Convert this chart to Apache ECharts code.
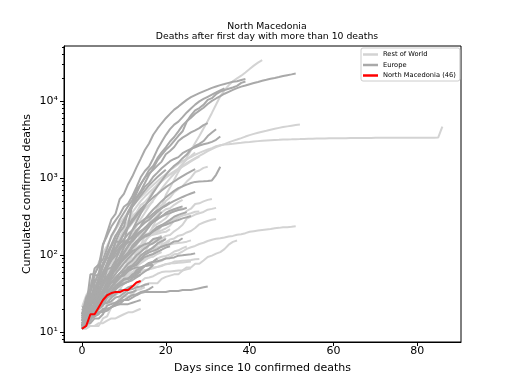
<!DOCTYPE html>
<html><head><meta charset="utf-8">
<script src="https://cdn.jsdelivr.net/npm/echarts@6/dist/echarts.min.js"></script>
<style>html,body{margin:0;padding:0;background:#fff}#c{width:512px;height:384px}</style>
</head><body><div id="c"></div>
<script>
// ---- Data (cumulative deaths, index = days since first day with >10 deaths) ----
const xTicks = [0, 20, 40, 60, 80];
const yTicks = [10, 100, 1000, 10000];
const yTickLabels = ['10\u00b9', '10\u00b2', '10\u00b3', '10\u2074'];
const legendNames = ['Rest of World', 'Europe', 'North Macedonia (46)'];

// Highlighted country
const northMacedonia = [11,12,17,17,21,26,30,32,33,33,35,35,39,44,46];

// Europe
const euA = [17,28,35,54,55,133,195,289,342,533,623,830,1043,1375,1772,2311,2808,3647,4365,5138,5982,6803,7716,8464,9387,10348,11198,11947,12641,13341,14045,14792,15447,16081,16606,17209,17756,18056,18708,19315];
const euB = [12,17,21,29,34,52,79,107,148,197,233,366,463,631,827,1016,1266,1441,1809,2158,2503,2978,3405,4032,4825,5476,6077,6820,7503,8165,9134,10023,10779,11591,12428,13155,13915,14681,15362,15887,16523,17127,17669,18279,18849,19468,19899,20465,21067,21645,22170,22745];
const euC = [19,19,33,48,48,79,91,91,149,149,149,244,451,563,676,862,1102,1333,1698,1997,2317,2611,3030,3532,4043,5398,6520,7574,8093,8926,10343,10887,12228,13215,13851,14412,14986,15712,17167,17920];
const euD = [21,21,56,56,72,138,178,234,282,336,423,466,580,761,1021,1231,1411,1793,2357,2926,3611,4320,4943,5385,6171,7111,7993,8974,9892,10629,11347,12107,12894,13759,14607];
const euE = [14,21,37,67,75,88,122,178,220,289,353,431,513,705,828,1011,1143,1283,1447,1632,2035,2240,2523,3019,3346,3600,3903,4157,4440,4857,5163];
const euF = [12,13,17,22,28,35,45,60,78,95,125,160,210,270,345,430,530,645,775,920,1100,1275,1445,1585,1810,2015,2350,2610,2770,3020,3500,3900,4300];
const euG = [12,20,24,43,58,76,106,136,179,213,276,356,434,546,639,771,864,1039,1173,1339,1487,1651,1766,1867,2101,2248,2396,2511,2643,2737,2823,2945,3134,3460];
const euH = [11,12,15,20,24,30,38,52,66,84,105,130,160,200,240,290,340,390,440,500,560,620,680,740,780,820,860,890,900,905,915,930,1100,1400];
const euI = [13,14,27,28,41,54,75,98,120,150,190,230,270,320,380,440,500,560,620,690,760,830,900,980,1060,1140,1220,1300];
const euJ = [12,14,23,33,43,60,76,100,119,140,160,187,209,246,266,295,311,345,380,409,435,470,504,535,567,599,629,657];
const euK = [19,21,22,36,46,54,71,85,98,120,137,158,174,210,235,263,287,320,365,406,444,486];
const euL = [16,21,28,30,49,58,68,86,108,128,146,158,168,186,204,220,243,273,295,319,337,350,368,384,393,410];
const euM = [13,13,24,24,34,41,52,65,72,77,90,104,123,139,161,179,187,203,218,237,247,260,273,285,299,309,321];
const euN = [11,17,23,26,37,43,65,69,85,115,133,146,151,176,197,220,248,270,291,316,351,376,392,411,428];
const euO = [14,16,18,22,31,33,43,57,71,79,94,107,129,152,159,174,181,208,232,245,263,286,314,332,347,360];
const euP = [12,14,14,20,23,26,32,39,44,50,59,62,71,76,89,101,108,113,119,128,134,139,150,152,165];
const euQ = [11,16,23,31,36,44,53,59,67,78,88,99,112,119,129,138,143,161,166,169];
const euR = [11,13,17,19,20,25,28,34,40,42,48,49,56,59,64,72,75,82,90];
const euS = [11,13,16,23,28,31,39,44,51,58,61,65,71,74,85,94,99,103,110,117,125,130];
const euT = [13,15,16,21,26,32,34,38,47,58,66,77,85,99,109,122,134,142,156,172];
const euU = [13,15,17,20,22,26,28,32,38,43,49,50,53,63,68,73,79,81,83,86,90,91,93,98,99,101,102,105];
const euV = [13,17,20,22,23,27,32,37,45,52,57,69,73,83,98,108,116,125,141,151,161];
const euW = [17,24,30,34,43,45,47,58,63,76,94,106,130,148,170,198,232,273,313,361];
const euX = [12,15,19,23,27,29,30,31,40,44,48,49,52,56,61];
const euY = [11,14,15,17,20,22,28,30,36,40,43,45,50,53,56,61,66,74];
const euZ = [15,22,23,29,30,31,36,44,46,52,54,62,66,69,69,72,73,75];
const euAA = [12,13,15,16,18,19,19,21,23,25,26,28,30,31,33,34,36,39];
const euAB = [13,13,16,17,18,18,19,21,23,23,26,26,28,30,32,33,33,33,33,33,33,34,34,34,35,35,35,36,37,38,39];
const euAC = [13,13,16,19,23,26,29,33,36,40,42,45,47,51,55];
const euAD = [11,15,15,16,17,20,20,21,22,23,23,23,24,25,26];
const euAE = [14,17,18,20,22,23,24,25,28,29,32,35,36,38,39,41,42];
const euAF = [12,13,15,19,21,24,24,28,31,35,35,38,40];
const euAG = [11,13,13,15,15,17,22,23,24,26,29,32,33,35];
const euAH = [16,20,26,33,42,55,70,92,118,150,190,236,290,340,395,450];
const euAI = [12,18,25,36,50,70,95,128,170,220,280,345,420,500,590,690,800,910,1030,1150,1280];
const euAJ = [12,15,19,24,31,40,50,62,76,92,110,130,152,176,200,226,254,283,312];
const euAK = [11,14,18,22,27,33,40,48,57,67,78,90,103,117,132];

// Rest of World
const rwA = [11,12,14,16,19,22,26,31,37,44,52,62,75,92,115,145,185,240,310,430,600,750,950,1200,1500,1850,2300,2850,3500,4400,5500,7000,9000,11500,13800,16000,18000,19700,21300,23500,26000,28800,31500,34000];
const rwB = [17,25,41,56,80,106,132,170,213,259,304,361,425,490,563,636,722,811,908,1016,1113,1259,1380,1523,1665,1770,1868,2004,2118,2236,2345,2442,2592,2663,2715,2744,2788,2835,2870,2912,2943,2981,3012,3044,3072,3100,3123,3139,3161,3172,3180,3193,3203,3217,3230,3241,3249,3253,3259,3274,3274,3281,3285,3291,3296,3299,3304,3308,3309,3316,3322,3326,3330,3331,3333,3335,3335,3337,3339,3340,3341,3342,3342,3344,3344,3345,4632];
const rwC = [16,19,26,34,43,54,66,77,92,107,124,145,194,237,291,354,429,514,611,724,853,988,1135,1284,1433,1556,1685,1812,1934,2077,2234,2378,2517,2640,2757,2898,3036,3160,3294,3452,3603,3739,3872,3993,4110,4232,4357,4474,4585,4683,4777,4869,4958];
const rwD = [13,13,16,17,28,32,35,42,44,50,51,54,60,66,66,72,75,75,81,84,91,94,102,104,111,120,126,131,139,144,152,158,162,165,169,174,177,183,186,192,200,204,208,211,214,217,222,225,229,230,232,236];
const rwE = [11,12,12,12,12,15,16,21,22,28,29,29,31,35,36,41,43,43,43,49,52,54,56,56,63,69,69,77,77,85,94,98,104,109,119,136,148,154];
const rwF = [21,30,37,44,59,75,92,108,131,168,214,277,356,425,501,574,649,725,812,908,1006,1101,1198,1296,1403,1518,1643,1769,1890];
const rwG = [15,25,34,46,59,77,92,111,136,159,201,240,324,359,445,486,564,686,819,950,1057,1124,1223,1328,1532,1736,1924,2141];
const rwH = [12,19,21,25,26,30,38,54,61,64,80,101,109,139,179,218,259,339,375,407,503,557,654,714,781,899,1010,1195,1250,1354,1399];
const rwI = [12,16,20,28,29,37,50,60,79,94,125,141,174,194,233,273,296,332,406,449,486];
const rwJ = [12,19,20,24,27,32,35,58,72,72,86,99,136,150,178,226,246,288,331,358,393,405,448,486,521];
const rwK = [19,25,32,38,48,49,55,58,78,87,102,114,122,136,157,170,181,191,198,209,221,240,280,306,327,373,399,459,469,496,520,535];
const rwL = [12,15,17,19,25,33,35,38,45,54,68,71,78,88,96,107,136,144,152,163,177,182,203,221,247,297,315,335,349,362,387,397,409];
const rwM = [14,18,27,28,34,36,48,58,60,75,93,120,145,172,180,191,242,272,297,315,333,355,369,388,403];
const rwN = [11,16,18,24,30,38,55,61,73,83,92,107,121,138,169,181,193,230,254,274,300,348,400];
const rwO = [14,19,20,21,24,30,36,40,41,46,52,58,66,71,78,85,94,103,118,135,146,159,164,178,183,196,205,224,250,264,276,287,294];
const rwP = [15,17,17,19,21,25,26,29,31,35,44,58,86,105,130,152,173,193,205,235,256,275,293,313,326,336,348,364,367];
const rwQ = [12,15,16,20,26,36,40,44,49,57,65,73,86,95,101,103,116,123,126,130,142,151];
const rwR = [11,13,14,21,26,31,40,45,50,54,63,66,77,86,93,96,111,128,135,143,168];
const rwS = [12,16,18,22,27,34,37,43,48,57,65,73,82,92,94,105,116,126];
const rwT = [15,20,28,39,42,51,60,68,82,86,98,108,118,126,135,173,177,183,189,196,200,217];
const rwU = [11,12,17,20,23,27,29,36,40,42,46,50,54,56,61,64,65,69,70,72,76,78,78,79,80,81,82];
const rwV = [12,13,17,18,19,24,27,28,36,39,43,48,56,63,69,72,79,82,90,95,97,102,111,115,123,129];
const rwW = [11,23,26,33,36,39,44,48,59,70,80,81,90,93,97,107,111,118,126,127,135,137,141,143,145,149,155];
const rwX = [12,16,17,19,25,32,35,46,50,54,69,80,100,109,112,131,144,153,166,179];
const rwY = [16,21,25,29,34,38,41,44,47,52,59,65,73,79,83,87,92,97];
const rwZ = [14,20,24,30,32,37,41,46,54,55,59,63,66,74,79,87,94,95,103,109];
const rwAA = [14,16,20,23,27,27,35,37,43,45,50,53,57,61,62,63,65,67,70,73,76,77,82,83,84,85,86,88,89];
const rwAB = [11,12,13,18,21,23,25,28,30,33,35,35,39,40,45,50,51,53,57,60,61,61,62,63,63,65,67];
const rwAC = [12,17,20,21,27,30,34,39,46,50,60,75,84];
const rwAD = [12,14,15,18,21,23,25,30];
const rwAE = [12,14,16,17,18,19,23,24,24,24,30,32,32,36,36,38];
const rwAF = [12,13,18,18,24,25,25,27,34,48,50,52,54];
const rwAG = [11,14,15,20,24,27,28,29,31,32,34,37,40];
const rwAH = [11,11,12,12,13,13,14,15,15,16,17,18,18,19,20];
const rwAI = [14,18,24,33,45,60,78,100,125,150,185,220,260,300,350,400,450,500];

const europe = [euA,euB,euC,euD,euE,euF,euG,euH,euI,euJ,euK,euL,euM,euN,euO,euP,euQ,euR,euS,euT,euU,euV,euW,euX,euY,euZ,euAA,euAB,euAC,euAD,euAE,euAF,euAG,euAH,euAI,euAJ,euAK];
const restOfWorld = [rwA,rwB,rwC,rwD,rwE,rwF,rwG,rwH,rwI,rwJ,rwK,rwL,rwM,rwN,rwO,rwP,rwQ,rwR,rwS,rwT,rwU,rwV,rwW,rwX,rwY,rwZ,rwAA,rwAB,rwAC,rwAD,rwAE,rwAF,rwAG,rwAH,rwAI];

const yMinorTicks = [];
[1, 10, 100, 1000, 10000].forEach(d => { for (let m = 2; m <= 9; m++) yMinorTicks.push(m * d); });

// ---- Chart ----
const COL_ROW = '#d3d3d3', COL_EU = '#a9a9a9', COL_HI = '#ff0000';
const FONT = 'DejaVu Sans';
const toPts = arr => arr.map((v, i) => [i, v]);
const mk = (name, arr, color, z) => ({
  name, type: 'line', data: toPts(arr), showSymbol: false, symbol: 'none',
  lineStyle: { width: 2, color }, itemStyle: { color }, z, silent: true,
  animation: false, emphasis: { disabled: true }
});
const series = [];
restOfWorld.forEach(a => series.push(mk(legendNames[0], a, COL_ROW, 2)));
europe.forEach(a => series.push(mk(legendNames[1], a, COL_EU, 3)));
series.push(mk(legendNames[2], northMacedonia, COL_HI, 5));

const yMin = 7.41, yMax = 51800;
const chart = echarts.init(document.getElementById('c'), null, { renderer: 'canvas' });
chart.setOption({
  animation: false,
  backgroundColor: '#fff',
  title: {
    text: 'North Macedonia\nDeaths after first day with more than 10 deaths',
    left: 262, top: 16, textAlign: 'center',
    textStyle: { fontFamily: FONT, fontSize: 9.3, fontWeight: 'normal', color: '#000', lineHeight: 10.5 }
  },
  legend: {
    data: legendNames.map(n => ({ name: n, icon: 'rect' })),
    orient: 'vertical', left: 361, top: 48,
    itemWidth: 15, itemHeight: 2.5, itemGap: 3.5,
    padding: [3, 4, 2, 2],
    borderColor: '#cccccc', borderWidth: 1, borderRadius: 2,
    backgroundColor: '#fff',
    textStyle: { fontFamily: FONT, fontSize: 6.7, color: '#000', lineHeight: 6.5 },
    selectedMode: false
  },
  grid: { left: 64, top: 46, width: 397, height: 296, show: true, borderColor: '#000', borderWidth: 1, backgroundColor: 'transparent' },
  xAxis: {
    type: 'value', min: -4.3, max: 90.45,
    name: 'Days since 10 confirmed deaths', nameLocation: 'middle', nameGap: 21,
    nameTextStyle: { fontFamily: FONT, fontSize: 11, color: '#000' },
    axisLine: { show: true, onZero: false, lineStyle: { color: '#000', width: 1 } },
    axisTick: { show: true, length: 4, lineStyle: { color: '#000' }, customValues: xTicks },
    axisLabel: { fontFamily: FONT, fontSize: 11, color: '#000', margin: 4, customValues: xTicks },
    splitLine: { show: false }
  },
  yAxis: [{
    type: 'log', logBase: 10, min: yMin, max: yMax,
    name: 'Cumulated confirmed deaths', nameLocation: 'middle', nameGap: 31, nameRotate: 90,
    nameMoveOverlap: false,
    nameTextStyle: { fontFamily: FONT, fontSize: 11, color: '#000' },
    axisLine: { show: true, onZero: false, lineStyle: { color: '#000', width: 1 } },
    axisTick: { show: true, length: 4, lineStyle: { color: '#000' }, customValues: yTicks },
    axisLabel: { fontFamily: FONT, fontSize: 11, color: '#000', margin: 6, customValues: yTicks,
      formatter: v => { const i = yTicks.indexOf(Math.round(v)); return i >= 0 ? yTickLabels[i] : ''; } },
    splitLine: { show: false }
  }, {
    type: 'log', logBase: 10, min: yMin, max: yMax, position: 'left',
    axisLine: { show: false, onZero: false },
    axisTick: { show: true, length: 2, lineStyle: { color: '#000' }, customValues: yMinorTicks },
    axisLabel: { show: false },
    splitLine: { show: false }
  }],
  series
});
</script></body></html>
